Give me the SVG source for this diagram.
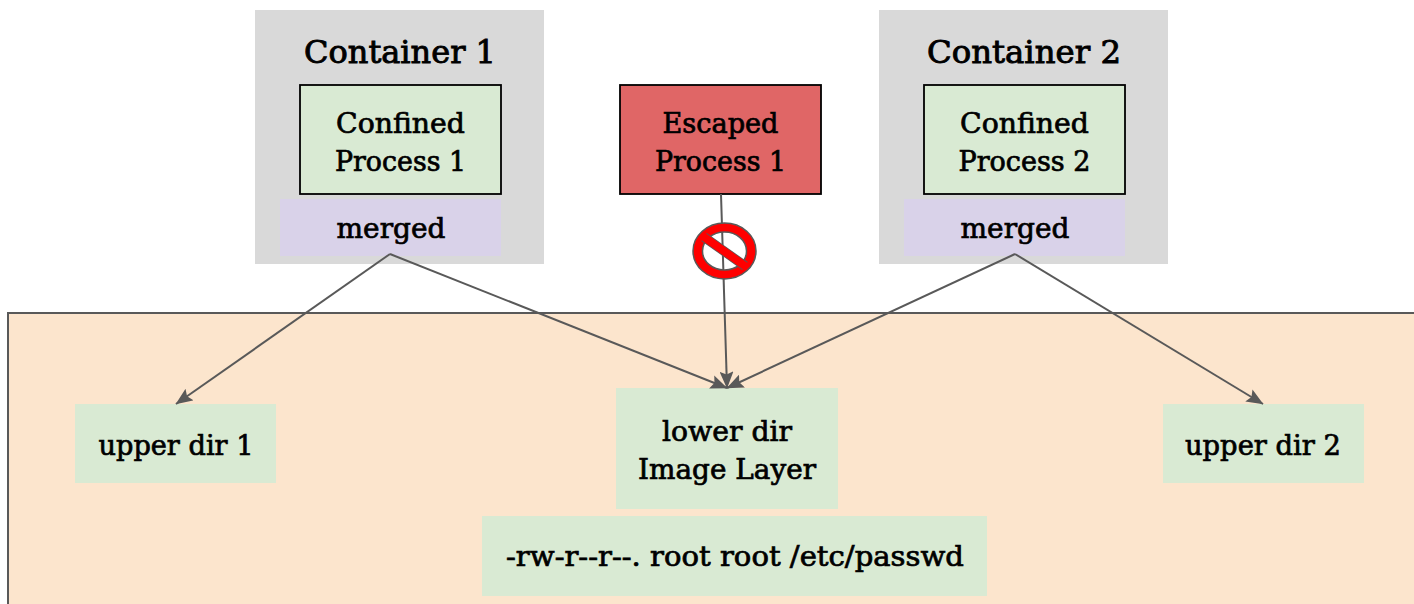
<svg xmlns="http://www.w3.org/2000/svg" width="1414" height="604" viewBox="0 0 1414 604">
<defs><marker id="a" markerWidth="17" markerHeight="14" refX="16.5" refY="7" orient="auto" markerUnits="userSpaceOnUse"><path d="M0 0L17 7L0 14L3 7Z" fill="#595959"/></marker></defs>
<style>
text{font-family:"DejaVu Serif","Liberation Serif",serif;font-size:27px;fill:#000;text-anchor:middle;stroke:#000;stroke-width:.7}
.c{font-size:31px;stroke-width:.9}
.l{stroke:#595959;stroke-width:2;fill:none;marker-end:url(#a)}
.g{fill:#d9ead3}.p{fill:#d9d2e9}.k{stroke:#000;stroke-width:1.8}.h{fill:#d9d9d9}
</style>
<rect width="1414" height="604" fill="#fff"/>
<g id="host"><path d="M1416 313H8V606H1416Z" fill="#fce5cd" stroke="#595959" stroke-width="2"/></g>
<g id="container1"><rect class="h" x="255" y="10" width="289" height="254"/><text class="c" x="400" y="63" textLength="192" lengthAdjust="spacingAndGlyphs">Container 1</text></g>
<g id="container2"><rect class="h" x="879" y="10" width="289" height="254"/><text class="c" x="1024" y="63" textLength="194" lengthAdjust="spacingAndGlyphs">Container 2</text></g>
<g id="process1"><rect class="g k" x="300" y="85" width="201" height="109"/><text x="400.500" y="133" textLength="129" lengthAdjust="spacingAndGlyphs">Confined</text><text x="400.500" y="171" textLength="131" lengthAdjust="spacingAndGlyphs">Process 1</text></g>
<g id="process2"><rect class="g k" x="924" y="85" width="201" height="109"/><text x="1024.500" y="133" textLength="129" lengthAdjust="spacingAndGlyphs">Confined</text><text x="1024.500" y="171" textLength="132" lengthAdjust="spacingAndGlyphs">Process 2</text></g>
<g id="escaped"><rect x="620" y="85" width="201" height="109" fill="#e06666" stroke="#000" stroke-width="1.8"/><text x="720.500" y="133" textLength="116" lengthAdjust="spacingAndGlyphs">Escaped</text><text x="720.500" y="171" textLength="131" lengthAdjust="spacingAndGlyphs">Process 1</text></g>
<g id="merged1"><rect class="p" x="280" y="199" width="221" height="57"/><text x="391" y="238" textLength="109" lengthAdjust="spacingAndGlyphs">merged</text></g>
<g id="merged2"><rect class="p" x="904" y="199" width="221" height="57"/><text x="1015" y="238" textLength="109" lengthAdjust="spacingAndGlyphs">merged</text></g>
<g id="upper1"><rect class="g" x="75" y="404" width="201" height="79"/><text x="176" y="455" textLength="155" lengthAdjust="spacingAndGlyphs">upper dir 1</text></g>
<g id="lower"><rect class="g" x="616" y="388" width="222" height="121"/><text x="727" y="441" textLength="130" lengthAdjust="spacingAndGlyphs">lower dir</text><text x="727" y="479" textLength="178" lengthAdjust="spacingAndGlyphs">Image Layer</text></g>
<g id="upper2"><rect class="g" x="1163" y="404" width="201" height="79"/><text x="1263" y="455" textLength="156" lengthAdjust="spacingAndGlyphs">upper dir 2</text></g>
<g id="passwd"><rect class="g" x="482" y="516" width="505" height="80"/><text x="735" y="566" textLength="458" lengthAdjust="spacingAndGlyphs">-rw-r--r--. root root /etc/passwd</text></g>
<g id="connectors">
<path class="l" d="M390 254L176 404"/><path class="l" d="M390 254L727 388"/><path class="l" d="M1015 254L727 388"/><path class="l" d="M1015 254L1263 404"/><path class="l" d="M721 194L727 388"/>
</g>
<g id="prohibited"><path fill-rule="evenodd" fill="#ff0000" stroke="#595959" stroke-width="1.5" d="M693 251a31.500 28 0 1 0 63 0a31.500 28 0 1 0 -63 0ZM702.500 251a22 19 0 1 0 44 0a22 19 0 1 0 -44 0Z"/><path d="M704 237L745 266" stroke="#595959" stroke-width="9.500"/><path d="M703 236.300L746 266.700" stroke="#ff0000" stroke-width="8"/></g>
</svg>
